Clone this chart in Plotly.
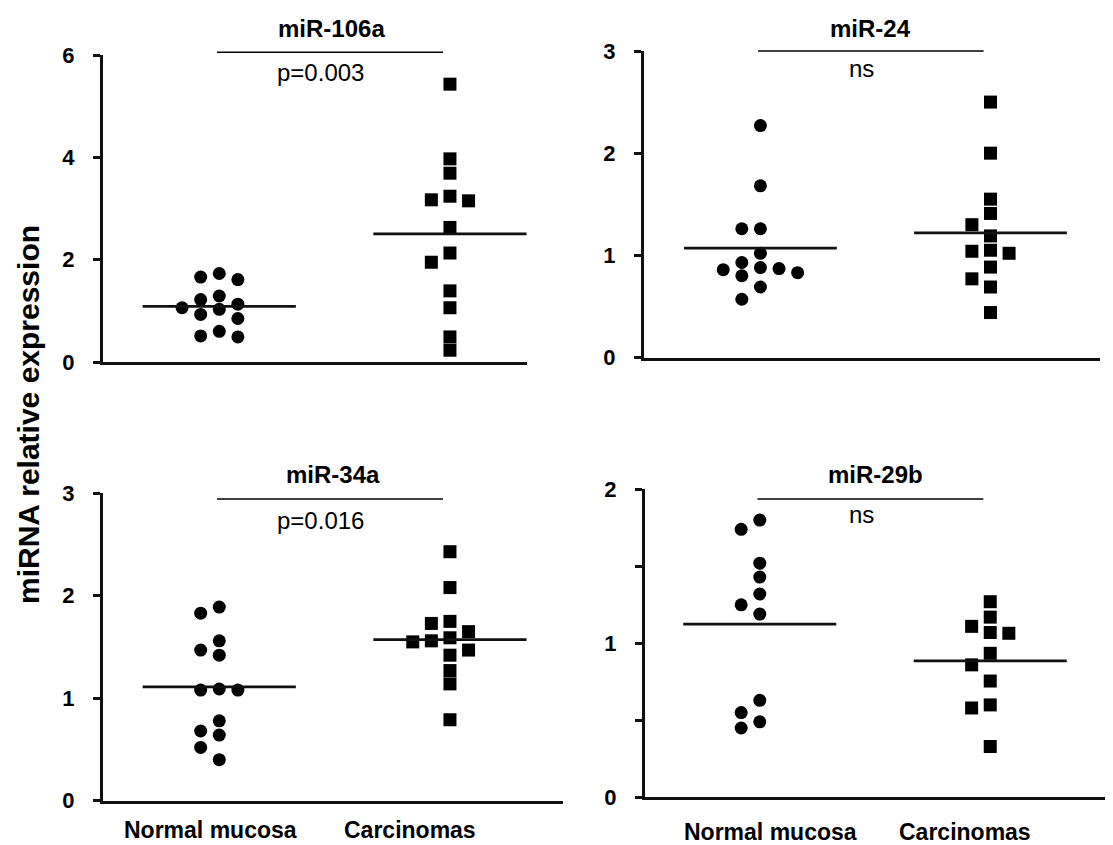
import plotly.graph_objects as go

W, H = 1113, 845

# ---------------- data ----------------
categories = ["Normal mucosa", "Carcinomas"]
panel_titles = ["miR-106a", "miR-24", "miR-34a", "miR-29b"]
p_labels = ["p=0.003", "ns", "p=0.016", "ns"]
y_title = "miRNA relative expression"

mir106a_normal = [1.73, 1.66, 1.61, 1.29, 1.22, 1.13, 1.06, 1.03, 0.93, 0.85, 0.60, 0.51, 0.49]
mir106a_carcinoma = [5.43, 3.97, 3.69, 3.24, 3.17, 3.15, 2.63, 2.13, 1.95, 1.39, 1.06, 0.49, 0.23]
mir24_normal = [2.27, 1.68, 1.26, 1.26, 1.02, 0.93, 0.88, 0.87, 0.86, 0.83, 0.80, 0.69, 0.57]
mir24_carcinoma = [2.50, 2.00, 1.55, 1.41, 1.30, 1.19, 1.05, 1.04, 1.02, 0.885, 0.77, 0.69, 0.44]
mir34a_normal = [1.89, 1.83, 1.56, 1.47, 1.42, 1.09, 1.08, 1.08, 0.78, 0.68, 0.64, 0.52, 0.40]
mir34a_carcinoma = [2.43, 2.08, 1.75, 1.73, 1.65, 1.59, 1.56, 1.55, 1.47, 1.42, 1.27, 1.14, 0.79]
mir29b_normal = [1.80, 1.74, 1.52, 1.43, 1.32, 1.25, 1.19, 0.63, 0.55, 0.49, 0.45]
mir29b_carcinoma = [1.27, 1.17, 1.11, 1.07, 1.065, 0.935, 0.86, 0.755, 0.60, 0.58, 0.33]

y_ranges = [(0, 6), (0, 3), (0, 3), (0, 2)]
y_tickvals = [[0, 2, 4, 6], [0, 1, 2, 3], [0, 1, 2, 3], [0, 0.5, 1, 1.5, 2]]
y_ticktext = [["0", "2", "4", "6"], ["0", "1", "2", "3"], ["0", "1", "2", "3"], ["0", "", "1", "", "2"]]

groups = [
    (mir106a_normal, mir106a_carcinoma),
    (mir24_normal, mir24_carcinoma),
    (mir34a_normal, mir34a_carcinoma),
    (mir29b_normal, mir29b_carcinoma),
]

# ---------------- layout geometry (pixels) ----------------
boxes = [(103, 527, 55, 362), (644, 1100, 51, 357.5), (103, 563, 493.3, 800.7), (645, 1105, 489.3, 797.3)]
x_ranges = [(0.496, 2.334), (0.494, 2.476), (0.496, 2.49), (0.502, 2.498)]
bracket_px_y = [52.3, 51, 499, 499]
plabel_px_y = [72, 68, 520, 514]
title_px = [(331, 28), (870, 28), (333, 474), (875, 474)]
cat_label_px = [[(210, 830), (410, 830)], [(770, 832), (965, 832)]]

FONT = "Arial, Liberation Sans, Helvetica, sans-serif"
MS = 13  # marker size px


def px_to_paper_y(py):
    return 1 - py / H


def swarm(values, center, xppu, yppu, step=9.3, dx_min=17.0, dy_min=12.5):
    """simple beeswarm: place points greedily from highest to lowest."""
    order = sorted(range(len(values)), key=lambda i: -values[i])
    placed = []
    xs = [0.0] * len(values)
    cands = [0]
    for k in range(1, 12):
        cands += [-k, k]
    for i in order:
        yp = values[i] * yppu
        for c in cands:
            xp = c * step
            if all(not (abs(xp - a) < dx_min and abs(yp - b) < dy_min) for a, b in placed):
                break
        placed.append((xp, yp))
        xs[i] = center + xp / xppu
    return xs


fig = go.Figure()
layout = dict(
    width=W, height=H, margin=dict(l=0, r=0, t=0, b=0, autoexpand=False),
    paper_bgcolor="white", plot_bgcolor="white", showlegend=False,
)
shapes = []
annotations = []

for p in range(4):
    left, right, top, bottom = boxes[p]
    xr = x_ranges[p]
    yr = y_ranges[p]
    xppu = (right - left) / (xr[1] - xr[0])
    yppu = (bottom - top) / (yr[1] - yr[0])
    sfx = "" if p == 0 else str(p + 1)
    xa, ya = "x" + sfx, "y" + sfx
    normal, carc = groups[p]

    for ci, (vals, sym) in enumerate([(normal, "circle"), (carc, "square")]):
        center = ci + 1
        xs = swarm(vals, center, xppu, yppu)
        fig.add_trace(go.Scatter(
            x=xs, y=vals, mode="markers", xaxis=xa, yaxis=ya, cliponaxis=False,
            marker=dict(symbol=sym, size=MS, color="black", line=dict(width=0)),
            hoverinfo="y",
        ))
        mean = sum(vals) / len(vals)
        fig.add_trace(go.Scatter(
            x=[center - 0.332, center + 0.332], y=[mean, mean], mode="lines",
            xaxis=xa, yaxis=ya, line=dict(color="#111", width=2.8), hoverinfo="skip",
        ))

    layout["xaxis" + sfx] = dict(
        domain=[left / W, right / W], range=list(xr), anchor=ya, automargin=False,
        showline=True, linecolor="#111", linewidth=3, showgrid=False,
        zeroline=False, ticks="", showticklabels=False, fixedrange=True,
    )
    layout["yaxis" + sfx] = dict(
        domain=[px_to_paper_y(bottom), px_to_paper_y(top)], range=list(yr), anchor=xa,
        automargin=False,
        showline=True, linecolor="#111", linewidth=3, showgrid=False, zeroline=False,
        ticks="outside", ticklen=7, tickwidth=3, tickcolor="#111",
        tickvals=y_tickvals[p], ticktext=y_ticktext[p], ticklabelstandoff=14,
        tickfont=dict(family=FONT, size=22, color="black", weight="bold"),
        fixedrange=True,
    )

    by = px_to_paper_y(bracket_px_y[p])
    shapes.append(dict(type="line", xref=xa, yref="paper", x0=0.99, x1=1.97, y0=by, y1=by,
                       line=dict(color="black", width=1.6)))
    annotations.append(dict(
        x=1.44, xref=xa, y=px_to_paper_y(plabel_px_y[p]), yref="paper",
        text=p_labels[p], showarrow=False, xanchor="center", yanchor="middle",
        font=dict(family=FONT, size=24, color="black"),
    ))
    tx, ty = title_px[p]
    annotations.append(dict(
        x=tx / W, y=px_to_paper_y(ty), xref="paper", yref="paper",
        text=panel_titles[p], showarrow=False, xanchor="center", yanchor="middle",
        font=dict(family=FONT, size=24, color="black", weight="bold"),
    ))

for row in cat_label_px:
    for (cx, cy), lab in zip(row, categories):
        annotations.append(dict(
            x=cx / W, y=px_to_paper_y(cy), xref="paper", yref="paper",
            text=lab, showarrow=False, xanchor="center", yanchor="middle",
            font=dict(family=FONT, size=23, color="black", weight="bold"),
        ))

annotations.append(dict(
    x=28 / W, y=px_to_paper_y(415), xref="paper", yref="paper",
    text=y_title, showarrow=False, textangle=-90, xanchor="center", yanchor="middle",
    font=dict(family=FONT, size=30, color="black", weight="bold"),
))

layout["shapes"] = shapes
layout["annotations"] = annotations
fig.update_layout(**layout)
fig.write_html(
    "out.html",
    config={"displayModeBar": False},
    post_script="document.body.style.margin='0';document.body.style.overflow='hidden';",
)
